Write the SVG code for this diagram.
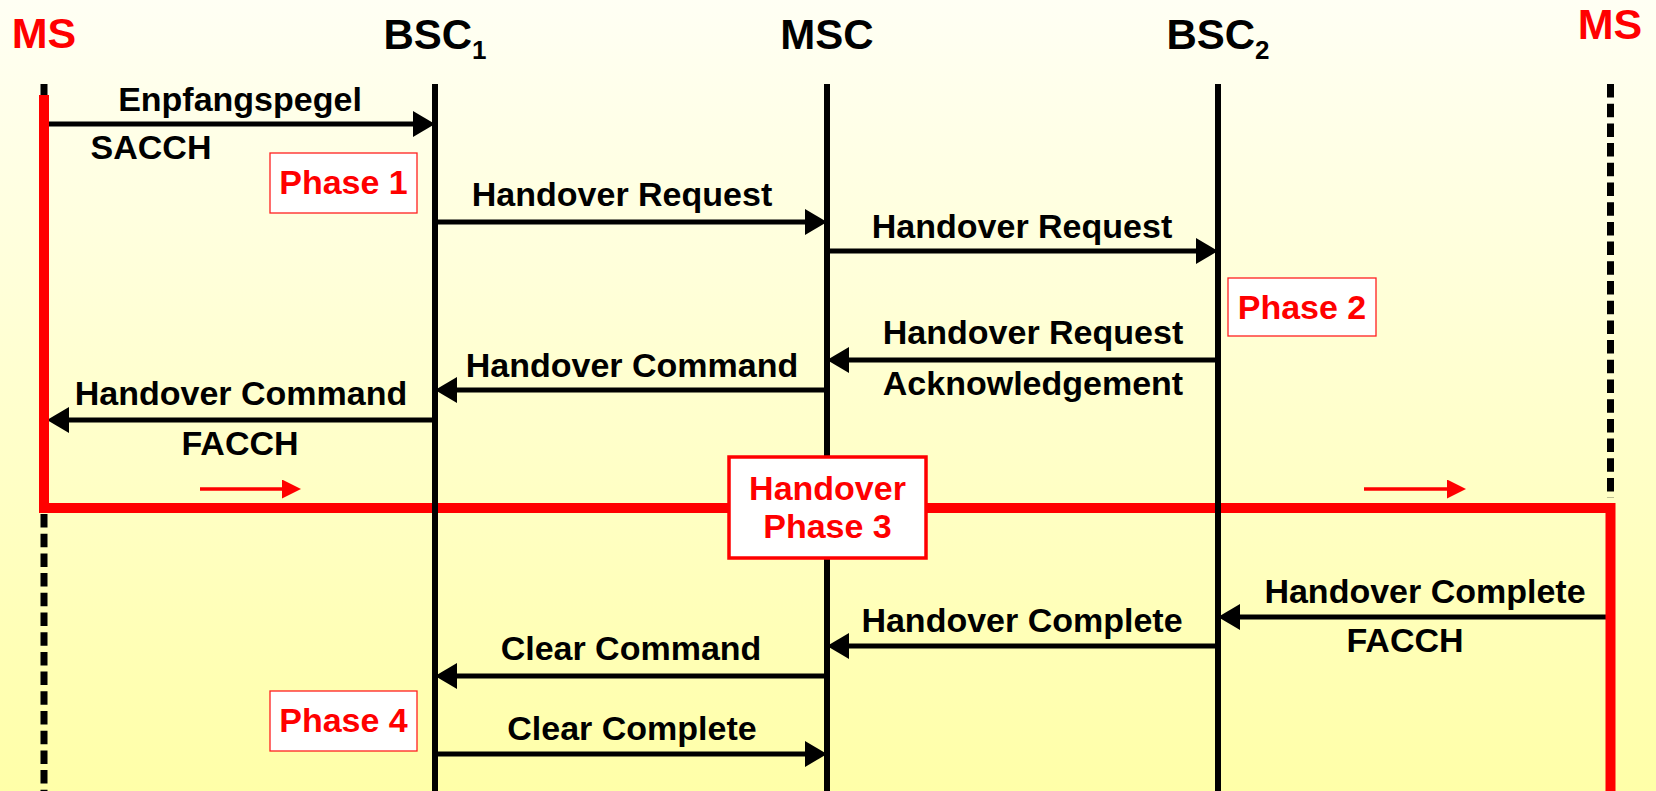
<svg xmlns="http://www.w3.org/2000/svg" width="1656" height="791" viewBox="0 0 1656 791">
  <defs>
    <linearGradient id="bg" x1="0" y1="0" x2="0" y2="1">
      <stop offset="0" stop-color="#FFFFF4"/>
      <stop offset="1" stop-color="#FFFFA8"/>
    </linearGradient>
    <marker id="ah" viewBox="0 0 22 26" markerWidth="22" markerHeight="26" refX="14" refY="13" markerUnits="userSpaceOnUse" orient="auto">
      <path d="M0,0 L22,13 L0,26 Z" fill="#000"/>
    </marker>
    <marker id="rh" viewBox="0 0 19 19" markerWidth="19" markerHeight="19" refX="12" refY="9.5" markerUnits="userSpaceOnUse" orient="auto">
      <path d="M0,0 L19,9.5 L0,19 Z" fill="#FF0000"/>
    </marker>
  </defs>
  <style>
    text { font-family: "Liberation Sans", Arial, sans-serif; font-weight: bold; }
    .hdr { font-size: 42px; fill: #000; text-anchor: middle; }
    .hdr-ms { font-size: 43px; fill: #FF0000; text-anchor: middle; }
    .sub { font-size: 26px; }
    .msg { font-size: 34px; fill: #000; text-anchor: middle; }
    .ph { font-size: 34px; fill: #FF0000; text-anchor: middle; }
    .life { stroke: #000; stroke-width: 6; fill: none; }
    .dash { stroke: #000; stroke-width: 7; fill: none; stroke-dasharray: 13.5 6.2; }
    .conn { stroke: #000; stroke-width: 5; fill: none; marker-end: url(#ah); }
    .move { stroke: #FF0000; stroke-width: 3.5; fill: none; marker-end: url(#rh); }
    .pbox { fill: #FFFFFF; stroke: #FF2020; stroke-width: 1.3; }
    .pbox3 { fill: #FFFFFF; stroke: #FF0000; stroke-width: 3.5; }
  </style>

  <rect x="0" y="0" width="1656" height="791" fill="url(#bg)"/>

  <!-- movement hints along the handover path -->
  <g id="movement">
    <line class="move" x1="200" y1="489" x2="294" y2="489"/>
    <line class="move" x1="1364" y1="489" x2="1459" y2="489"/>
  </g>

  <!-- signalling messages -->
  <g id="connectors">
    <line class="conn" x1="49" y1="124" x2="427" y2="124"/>
    <line class="conn" x1="435" y1="222" x2="819" y2="222"/>
    <line class="conn" x1="827" y1="251" x2="1210" y2="251"/>
    <line class="conn" x1="1218" y1="360" x2="835" y2="360"/>
    <line class="conn" x1="827" y1="390" x2="443" y2="390"/>
    <line class="conn" x1="435" y1="420" x2="55" y2="420"/>
    <line class="conn" x1="1610" y1="617" x2="1226" y2="617"/>
    <line class="conn" x1="1218" y1="646" x2="835" y2="646"/>
    <line class="conn" x1="827" y1="676" x2="443" y2="676"/>
    <line class="conn" x1="435" y1="754" x2="819" y2="754"/>

    <text class="msg" x="240" y="111">Enpfangspegel</text>
    <text class="msg" x="151" y="159">SACCH</text>
    <text class="msg" x="622" y="206">Handover Request</text>
    <text class="msg" x="1022" y="238">Handover Request</text>
    <text class="msg" x="1033" y="344">Handover Request</text>
    <text class="msg" x="1033" y="395">Acknowledgement</text>
    <text class="msg" x="632" y="377">Handover Command</text>
    <text class="msg" x="241" y="405">Handover Command</text>
    <text class="msg" x="240" y="455">FACCH</text>
    <text class="msg" x="1425" y="603">Handover Complete</text>
    <text class="msg" x="1405" y="652">FACCH</text>
    <text class="msg" x="1022" y="632">Handover Complete</text>
    <text class="msg" x="631" y="660">Clear Command</text>
    <text class="msg" x="632" y="740">Clear Complete</text>
  </g>

  <!-- mobile station: old cell, path of the handover, new cell -->
  <g id="ms-old">
    <text class="hdr-ms" x="44" y="48">MS</text>
    <line class="dash" x1="44" y1="84" x2="44" y2="96"/>
    <line class="dash" x1="44" y1="514" x2="44" y2="791"/>
  </g>
  <g id="ms-new">
    <text class="hdr-ms" x="1610" y="39">MS</text>
    <line class="dash" x1="1610.5" y1="84" x2="1610.5" y2="498"/>
  </g>
  <path id="ms-path" d="M44,95 V508 H1610.5 V791" fill="none" stroke="#FF0000" stroke-width="10" stroke-linejoin="miter"/>

  <g id="bsc1">
    <text class="hdr" x="435" y="49">BSC<tspan class="sub" dy="10">1</tspan></text>
    <line class="life" x1="435" y1="84" x2="435" y2="791"/>
  </g>
  <g id="msc">
    <text class="hdr" x="827" y="49">MSC</text>
    <line class="life" x1="827" y1="84" x2="827" y2="791"/>
  </g>
  <g id="bsc2">
    <text class="hdr" x="1218" y="49">BSC<tspan class="sub" dy="10">2</tspan></text>
    <line class="life" x1="1218" y1="84" x2="1218" y2="791"/>
  </g>

  <!-- phase markers -->
  <g id="phase1">
    <rect class="pbox" x="270" y="153" width="147" height="60"/>
    <text class="ph" x="343.5" y="194">Phase 1</text>
  </g>
  <g id="phase2">
    <rect class="pbox" x="1228" y="278" width="148" height="58"/>
    <text class="ph" x="1302" y="319">Phase 2</text>
  </g>
  <g id="phase3">
    <rect class="pbox3" x="729" y="457" width="197" height="101"/>
    <text class="ph" x="827.5" y="500">Handover</text>
    <text class="ph" x="827.5" y="538">Phase 3</text>
  </g>
  <g id="phase4">
    <rect class="pbox" x="270" y="691" width="147" height="60"/>
    <text class="ph" x="343.5" y="732">Phase 4</text>
  </g>
</svg>
